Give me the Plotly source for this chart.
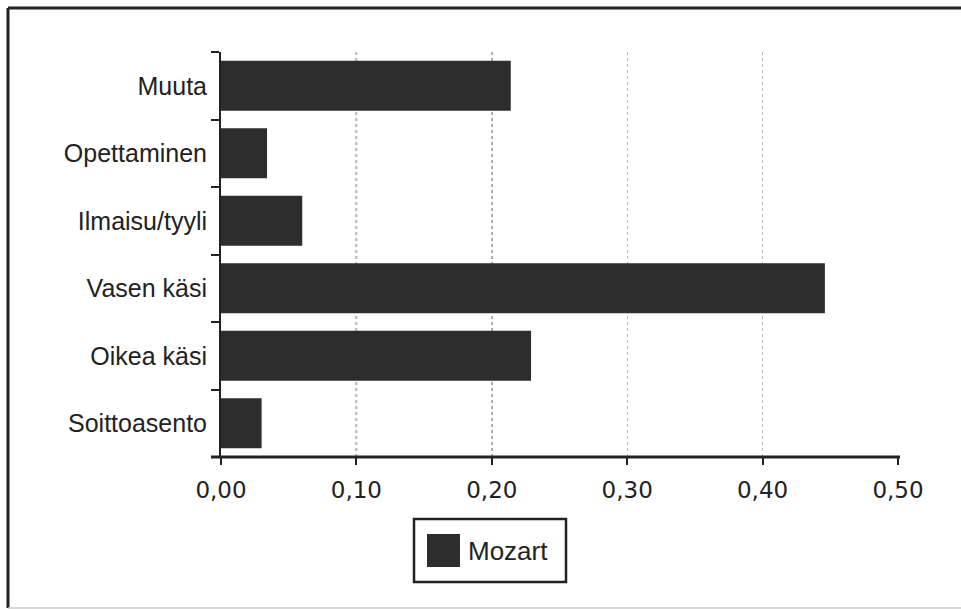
import plotly.graph_objects as go

# Categories listed bottom-to-top as they appear on the vertical axis
categories = ["Soittoasento", "Oikea käsi", "Vasen käsi", "Ilmaisu/tyyli", "Opettaminen", "Muuta"]
mozart = [0.030, 0.229, 0.446, 0.060, 0.034, 0.214]
series_name = "Mozart"
x_ticks = [0.0, 0.1, 0.2, 0.3, 0.4, 0.5]
dark_grid = [0.1, 0.2]

W, H = 961, 610
L, R, T, B = 221, 898, 52, 457  # plot area edges in pixels

def px(x):
    return (x - L) / (R - L)

def py(y):
    return (B - y) / (B - T)

INK = "#222222"
BAR = "#2d2d2d"
FONT = "Liberation Sans, Arial, sans-serif"
TICKFONT = "DejaVu Sans, sans-serif"

fig = go.Figure()
fig.add_trace(go.Bar(
    y=categories, x=mozart, orientation="h", name=series_name,
    marker=dict(color=BAR, line=dict(width=0)),
    width=0.74, showlegend=False,
))

shapes = []
# darker dotted gridlines
for g in dark_grid:
    shapes.append(dict(type="line", xref="x", yref="paper", x0=g, x1=g, y0=0, y1=1,
                       line=dict(color="#555555", width=1.5, dash="dot"), layer="below"))
# x axis baseline extending slightly left past the y axis
shapes.append(dict(type="line", xref="paper", yref="paper", x0=px(211), x1=px(900), y0=0, y1=0,
                   line=dict(color=INK, width=3)))
# outer frame
shapes.append(dict(type="line", xref="paper", yref="paper", x0=px(8), x1=px(975), y0=py(8), y1=py(8),
                   line=dict(color=INK, width=3)))
shapes.append(dict(type="line", xref="paper", yref="paper", x0=px(8), x1=px(8), y0=py(8), y1=py(608),
                   line=dict(color=INK, width=3)))
shapes.append(dict(type="line", xref="paper", yref="paper", x0=px(8), x1=px(975), y0=py(608), y1=py(608),
                   line=dict(color="#cccccc", width=1.5)))
# legend box and swatch
shapes.append(dict(type="rect", xref="paper", yref="paper", x0=px(414), x1=px(566), y0=py(519), y1=py(582),
                   line=dict(color=INK, width=2.5), fillcolor="white"))
shapes.append(dict(type="rect", xref="paper", yref="paper", x0=px(427), x1=px(460), y0=py(534), y1=py(567),
                   line=dict(color=BAR, width=0), fillcolor=BAR))

annotations = [dict(text=series_name, xref="paper", yref="paper", x=px(466), y=py(551),
                    xanchor="left", yanchor="middle", showarrow=False,
                    font=dict(family=FONT, size=26, color=INK))]

fig.update_layout(
    width=W, height=H,
    margin=dict(l=L, r=W - R, t=T, b=H - B, pad=0),
    paper_bgcolor="white", plot_bgcolor="white",
    separators=", ",
    font=dict(family=FONT, size=17, color=INK),
    shapes=shapes, annotations=annotations,
    showlegend=False,
    bargap=0.26,
)
fig.update_xaxes(
    range=[0, 0.5], tickvals=x_ticks, tickformat=".2f",
    showgrid=True, gridcolor="#bbbbbb", griddash="dot", gridwidth=1,
    zeroline=False, showline=False,
    ticks="outside", ticklen=7, tickwidth=1.5, tickcolor=INK,
    tickfont=dict(family=TICKFONT, size=23, color=INK),
    ticklabelstandoff=5,
)
fig.update_yaxes(
    type="category", categoryorder="array", categoryarray=categories,
    showgrid=False, zeroline=False,
    showline=True, linecolor=INK, linewidth=2,
    ticks="outside", tickson="boundaries", ticklen=8, tickwidth=2, tickcolor=INK,
    tickfont=dict(family=FONT, size=25, color=INK),
    ticklabelstandoff=7,
)

fig.write_html("out.html")
